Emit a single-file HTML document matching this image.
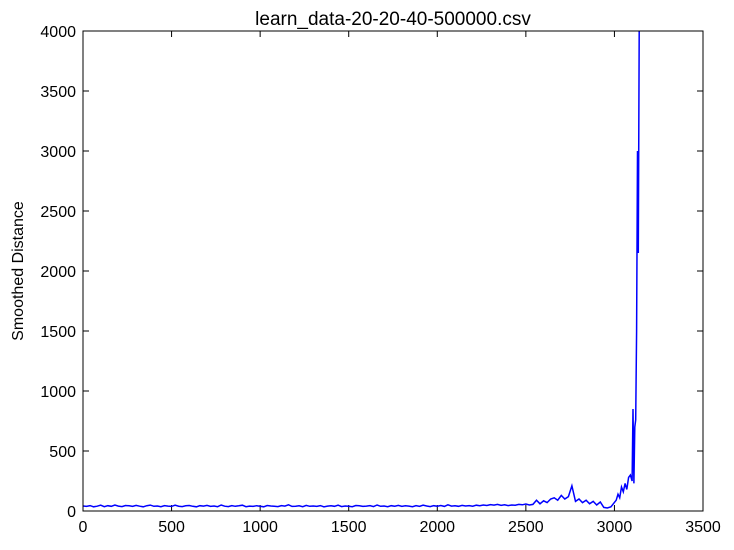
<!DOCTYPE html>
<html><head><meta charset="utf-8"><style>
body{margin:0;background:#fff;}
svg text{font-family:"Liberation Sans",sans-serif;}
</style></head><body>
<svg id="chart" width="734" height="545" xmlns="http://www.w3.org/2000/svg">
<rect width="734" height="545" fill="#fff"/>
<defs><clipPath id="clip"><rect x="83" y="31" width="620" height="480"/></clipPath></defs>
<text x="393" y="25" font-size="19" text-anchor="middle">learn_data-20-20-40-500000.csv</text>
<text transform="translate(23,271) rotate(-90)" font-size="16" text-anchor="middle">Smoothed Distance</text>
<g id="ticks"></g>
<path id="line" fill="none" stroke="#0000ff" stroke-width="1.5" clip-path="url(#clip)"/>
<rect x="83" y="31" width="620" height="480" fill="none" stroke="#000" stroke-width="1"/>
</svg>
<script>
const xTicks=[0,500,1000,1500,2000,2500,3000,3500];
const yTicks=[0,500,1000,1500,2000,2500,3000,3500,4000];
const baseVals=[42,38,45,35,40,48,36,44,39,50,41,37,46,43,38,47,40,35,44,49,
39,42,36,45,41,38,48,40,37,43,46,39,35,44,41,47,38,42,36,50,
40,37,45,39,43,48,36,41,38,44,40,35,46,42,39,37,45,41,52,38,
40,43,36,47,39,42,38,45,35,41,44,39,48,37,42,40,36,46,43,38,
41,45,37,50,39,42,36,44,40,47,38,43,41,36,45,39,48,42,37,44,
40,46,38,52,41,43,39,47,42,45,40,48,44,50,46,53,49,55,47,52,
45,50,48,55,52,58,50,55,90,60,85,70,100,110,90,130,100,120,210,80,
100,70,90,60,80,50,75,30,25,35];
const tailX=[3010,3020,3030,3040,3050,3060,3070,3080,3090,3100,3105,3110,3115,3120,3125,3130,3135,3140,3145];
const tailVals=[90,140,110,200,160,230,180,280,300,250,850,230,700,760,1500,3000,2150,4000,4600];
const xs=[],ys=[];
baseVals.forEach((v,i)=>{xs.push(i*20);ys.push(v);});
tailX.forEach((x,i)=>{xs.push(x);ys.push(tailVals[i]);});
const X=v=>83+v/3500*620, Y=v=>511-v/4000*480;
document.getElementById('line').setAttribute('d',xs.map((x,i)=>(i?'L':'M')+X(x).toFixed(1)+','+Y(ys[i]).toFixed(1)).join(''));
const g=document.getElementById('ticks');const ns='http://www.w3.org/2000/svg';
function mk(t,a){const e=document.createElementNS(ns,t);for(const k in a)e.setAttribute(k,a[k]);g.appendChild(e);return e;}
xTicks.forEach(v=>{const x=X(v);
const t1=mk('line',{x1:x,x2:x,y1:511,y2:505,stroke:'#000'});


const t2=mk('line',{x1:x,x2:x,y1:31,y2:37,stroke:'#000'});


const l=mk('text',{x:x,y:532,'font-size':16,'text-anchor':'middle'});l.textContent=v;

});
yTicks.forEach(v=>{const y=Y(v);
const t1=mk('line',{x1:83,x2:89,y1:y,y2:y,stroke:'#000'});


const t2=mk('line',{x1:697,x2:703,y1:y,y2:y,stroke:'#000'});


const l=mk('text',{x:76,y:y+6,'font-size':16,'text-anchor':'end'});l.textContent=v;

});
</script>
</body></html>
